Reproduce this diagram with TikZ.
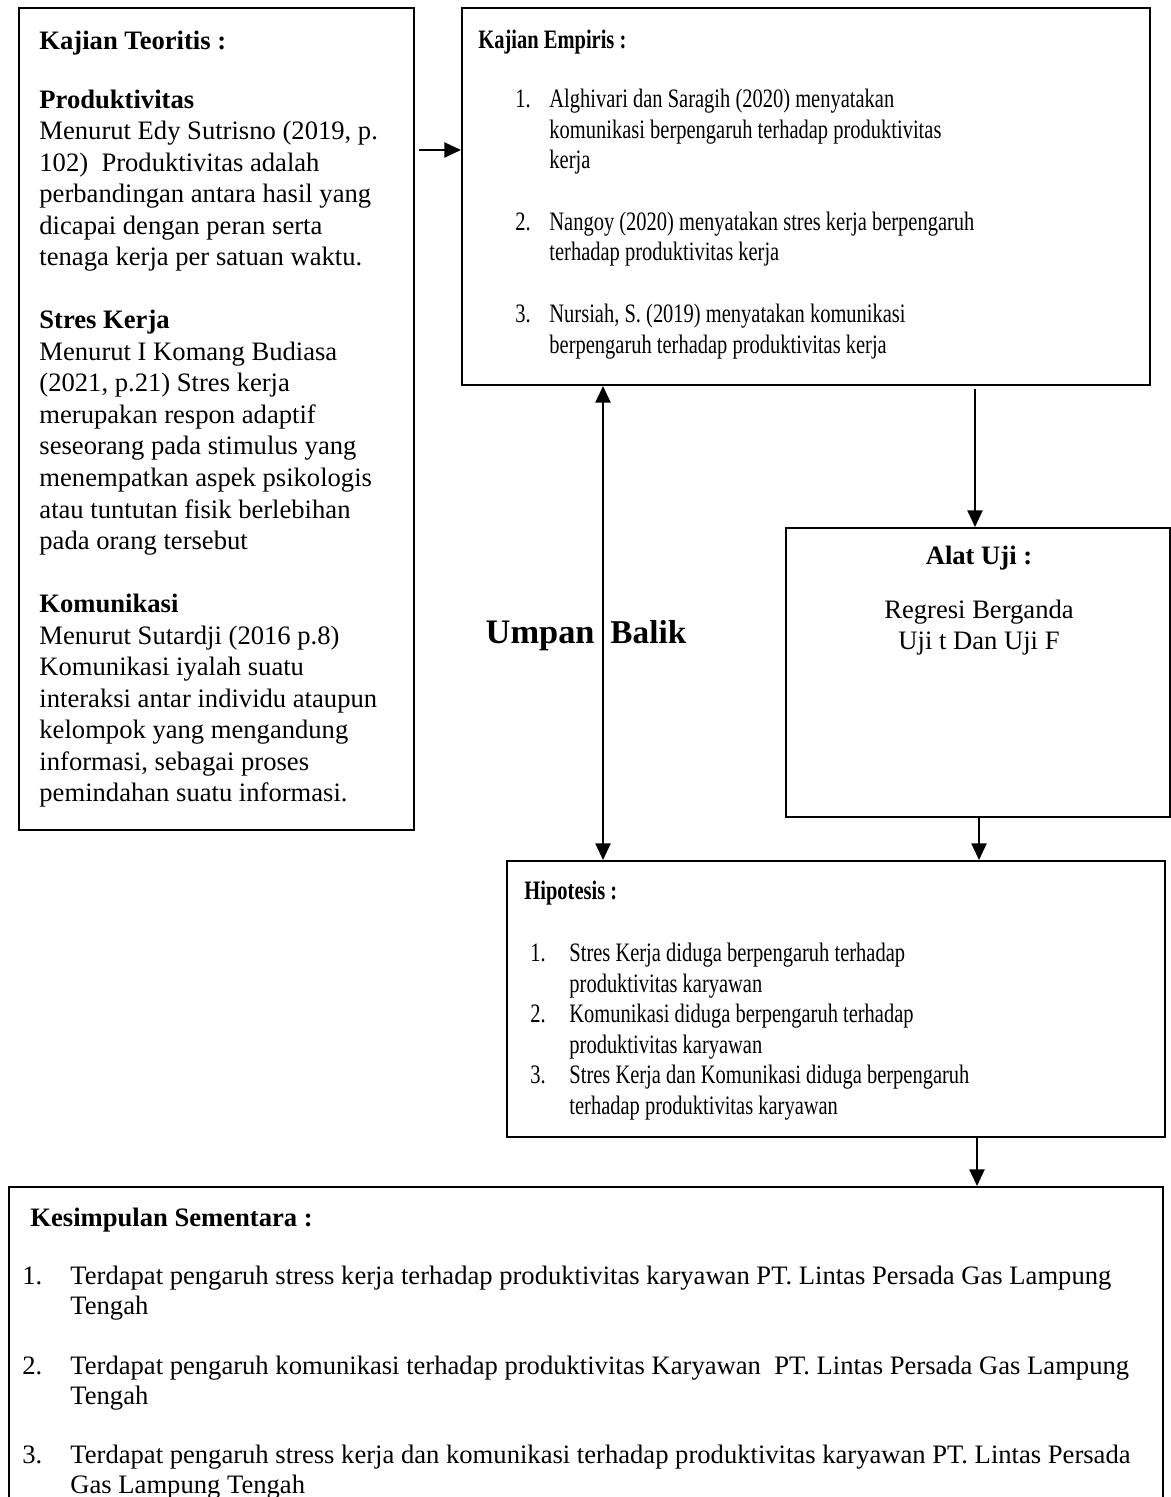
\documentclass[tikz,border=0pt]{standalone}
\usepackage{fontspec}
\setmainfont{Liberation Serif}
\newfontfamily\sempit[FakeStretch=0.77]{Liberation Serif}
\usepackage{tikz}
\usetikzlibrary{arrows.meta, calc, positioning}
\newlength{\px}
\setlength{\px}{0.451pt}
\newcommand{\butir}[2]{\makebox[#1\px][l]{#2}}
\newcommand{\awal}{\rule{0pt}{10pt}}

\begin{document}
\begin{tikzpicture}[x=\px, y=-\px,
    kotak/.style = {draw, line width = 0.9pt, inner sep = 0pt},
    teks/.style = {anchor = north west, align = left, inner sep = 0pt, font = \fontsize{12}{14.22}\selectfont},
    judul/.style = {anchor = base west, inner sep = 0pt, font = \fontsize{12}{14}\selectfont\bfseries},
    panah/.style = {line width = 0.9pt, -{Triangle[length = 7.5pt, width = 6.8pt]}},
    panahdua/.style = {line width = 0.9pt, {Triangle[length = 7.5pt, width = 6.8pt]}-{Triangle[length = 7.5pt, width = 6.8pt]}}]
    % Bingkai
    \useasboundingbox (0,0) rectangle (1171,1497);
    \clip (0,0) rectangle (1171,1497);
    % Kotak-kotak
    \node[kotak, minimum width = 395*\px, minimum height = 822*\px] (teori) at (216.5,419) {};
    \node[kotak, minimum width = 688*\px, minimum height = 377*\px] (empiris) at (806,196.5) {};
    \node[kotak, minimum width = 384*\px, minimum height = 289*\px] (alat) at (978,672.5) {};
    \node[kotak, minimum width = 658*\px, minimum height = 276*\px] (hipotesis) at (836,999) {};
    \node[kotak, minimum width = 1154*\px, minimum height = 340*\px] (kesimpulan) at (586,1357) {};
    % Kajian teoritis (baris pertama: baseline - 22.2)
    \node[teks] (isiteori) at (39,26.5) {\awal\textbf{Kajian Teoritis :}\\[12.4pt]
        \textbf{Produktivitas}\\
        Menurut Edy Sutrisno (2019, p.\\
        102)\ \ Produktivitas adalah\\
        perbandingan antara hasil yang\\
        dicapai dengan peran serta\\
        tenaga kerja per satuan waktu.\\[\baselineskip]
        \textbf{Stres Kerja}\\
        Menurut I Komang Budiasa\\
        (2021, p.21) Stres kerja\\
        merupakan respon adaptif\\
        seseorang pada stimulus yang\\
        menempatkan aspek psikologis\\
        atau tuntutan fisik berlebihan\\
        pada orang tersebut\\[\baselineskip]
        \textbf{Komunikasi}\\
        Menurut Sutardji (2016 p.8)\\
        Komunikasi iyalah suatu\\
        interaksi antar individu ataupun\\
        kelompok yang mengandung\\
        informasi, sebagai proses\\
        pemindahan suatu informasi.};
    % Kajian empiris
    \node[judul, font = \sempit\fontsize{12}{14}\selectfont\bfseries] (judulempiris) at (478,49) {Kajian Empiris :};
    \node[teks, font = \sempit\fontsize{12}{13.85}\selectfont] (isiempiris) at (515,84.8) {%
        \awal\butir{34}{1.}Alghivari dan Saragih (2020) menyatakan\\
        \butir{34}{}komunikasi berpengaruh terhadap produktivitas\\
        \butir{34}{}kerja\\[\baselineskip]
        \butir{34}{2.}Nangoy (2020) menyatakan stres kerja berpengaruh\\
        \butir{34}{}terhadap produktivitas kerja\\[\baselineskip]
        \butir{34}{3.}Nursiah, S. (2019) menyatakan komunikasi\\
        \butir{34}{}berpengaruh terhadap produktivitas kerja};
    % Alat uji
    \node[judul, anchor = base] (judulalat) at (979,564) {Alat Uji :};
    \node[teks, anchor = north, align = center, font = \fontsize{12}{14}\selectfont] (isialat) at (979,595.8) {\awal Regresi Berganda\\Uji t Dan Uji F};
    % Hipotesis
    \node[judul, font = \sempit\fontsize{12}{14}\selectfont\bfseries] (judulhipotesis) at (524,899) {Hipotesis :};
    \node[teks, font = \sempit\fontsize{12}{13.8}\selectfont] (isihipotesis) at (530,938.8) {%
        \awal\butir{39}{1.}Stres Kerja diduga berpengaruh terhadap\\
        \butir{39}{}produktivitas karyawan\\
        \butir{39}{2.}Komunikasi diduga berpengaruh terhadap\\
        \butir{39}{}produktivitas karyawan\\
        \butir{39}{3.}Stres Kerja dan Komunikasi diduga berpengaruh\\
        \butir{39}{}terhadap produktivitas karyawan};
    % Kesimpulan sementara
    \node[judul] (judulkesimpulan) at (30,1226) {Kesimpulan Sementara :};
    \node[teks, font = \fontsize{12}{13.45}\selectfont] (isikesimpulan) at (22,1262.3) {%
        \awal\butir{48}{1.}Terdapat pengaruh stress kerja terhadap produktivitas karyawan PT. Lintas Persada Gas Lampung\\
        \butir{48}{}Tengah\\[\baselineskip]
        \butir{48}{2.}Terdapat pengaruh komunikasi terhadap produktivitas Karyawan\ \ PT. Lintas Persada Gas Lampung\\
        \butir{48}{}Tengah\\[\baselineskip]
        \butir{48}{3.}Terdapat pengaruh stress kerja dan komunikasi terhadap produktivitas karyawan PT. Lintas Persada\\
        \butir{48}{}Gas Lampung Tengah};
    % Umpan balik
    \node[judul, anchor = base east, font = \fontsize{15.5}{18}\selectfont\bfseries] (umpan) at (595,643) {Umpan};
    \node[judul, font = \fontsize{15}{18}\selectfont\bfseries] (balik) at (610,643) {Balik};
    % Panah
    \path (teori.east |- 0,150) ++(4,0) coordinate (t1);
    \draw[panah] (t1) -- (empiris.west |- t1);
    \path (empiris.south -| 975,0) ++(0,3) coordinate (e1);
    \draw[panah] (e1) -- (alat.north -| e1);
    \draw[panahdua] (empiris.south -| 603,0) -- (hipotesis.north -| 603,0);
    \draw[panah] (alat.south -| 979,0) -- (hipotesis.north -| 979,0);
    \draw[panah] (hipotesis.south -| 977,0) -- (kesimpulan.north -| 977,0);
\end{tikzpicture}
\end{document}
